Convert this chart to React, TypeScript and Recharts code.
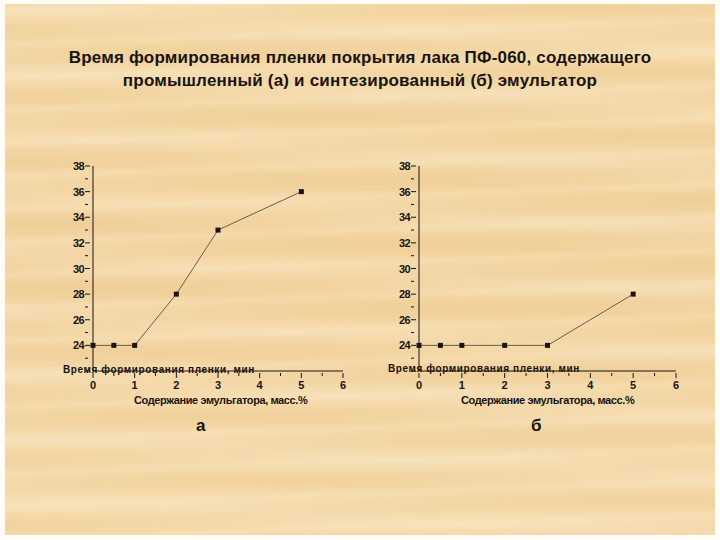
import { LineChart, Line, XAxis, YAxis } from "recharts";

const X_TICKS = [0, 1, 2, 3, 4, 5, 6];
const Y_TICKS = [22, 24, 26, 28, 30, 32, 34, 36, 38];

// содержание эмульгатора, масс.%
const conc = [0, 0.5, 1, 2, 3, 5];
// время формирования пленки, мин
const timeA = [24, 24, 24, 28, 33, 36];
const timeB = [24, 24, 24, 24, 24, 28];

const dataA = conc.map((c, i) => ({ c, t: timeA[i] }));
const dataB = conc.map((c, i) => ({ c, t: timeB[i] }));

const INK = "#1a1410";
const LINE = "#6e5c48";
const FONT = "'Liberation Sans', Arial, sans-serif";

const minorY = [23, 25, 27, 29, 31, 33, 35, 37];
const minorX = [0.5, 1.5, 2.5, 3.5, 4.5, 5.5];

function SquareDot(props: any) {
  const { cx, cy } = props;
  if (cx == null || cy == null) return null;
  return <rect x={cx - 2.5} y={cy - 2.5} width={5} height={5} fill={INK} />;
}

function YTick(props: any) {
  const { x, y, payload } = props;
  const minor = minorY.includes(payload.value);
  // 22 sits under the axis caption in the original, so it is not drawn
  const hidden = payload.value === 22;
  return (
    <g>
      <line x1={x} x2={x + (minor ? 3 : 5)} y1={y} y2={y} stroke={INK} strokeWidth={1} />
      {!minor && !hidden && (
        <text x={x - 1} y={y} dy={4} textAnchor="end" fontSize={11} fontWeight={700} fill={INK}
          fontFamily={FONT} letterSpacing={-0.6}>
          {payload.value}
        </text>
      )}
    </g>
  );
}

function XTick(props: any) {
  const { x, y, payload } = props;
  const minor = minorX.includes(payload.value);
  return (
    <g>
      <line x1={x} x2={x} y1={y - 6} y2={y - (minor ? 3 : 1)} stroke={INK} strokeWidth={1} />
      {!minor && (
        <text x={x} y={y} dy={10} textAnchor="middle" fontSize={11} fontWeight={700} fill={INK}
          fontFamily={FONT}>
          {payload.value}
        </text>
      )}
    </g>
  );
}

const allY = [...Y_TICKS, ...minorY].sort((a, b) => a - b);
const allX = [...X_TICKS, ...minorX].sort((a, b) => a - b);

function Panel({ data, left, width }: { data: { c: number; t: number }[]; left: number; width: number }) {
  return (
    <div style={{ position: "absolute", left, top: 150 }}>
      <LineChart width={width} height={240} data={data}
        margin={{ top: 16, right: 17, left: 13, bottom: 0 }}>
        <XAxis dataKey="c" type="number" domain={[0, 6]} ticks={allX} interval={0}
          axisLine={{ stroke: INK }} tickLine={false} tick={<XTick />} height={19} />
        <YAxis type="number" domain={[22, 38]} ticks={allY} interval={0}
          axisLine={{ stroke: INK }} tickLine={false} tick={<YTick />} width={30} />
        <Line dataKey="t" stroke={LINE} strokeWidth={1} dot={<SquareDot />}
          isAnimationActive={false} type="linear" />
      </LineChart>
    </div>
  );
}

const woodBg = [
  "repeating-linear-gradient(178deg, rgba(255,244,220,0) 0px, rgba(255,244,220,0.22) 7px, rgba(255,244,220,0) 15px, rgba(228,188,128,0.12) 24px, rgba(255,244,220,0) 33px)",
  "repeating-linear-gradient(183deg, rgba(235,190,120,0) 0px, rgba(235,190,120,0.12) 11px, rgba(235,190,120,0) 23px, rgba(255,247,228,0.2) 44px, rgba(235,190,120,0) 61px)",
  "linear-gradient(180deg, #f3d7a5 0%, #f2d39f 50%, #f4d9a9 100%)",
].join(", ");

const capStyle = {
  position: "absolute" as const,
  fontSize: 10,
  fontWeight: 700,
  color: INK,
  letterSpacing: 0.6,
  whiteSpace: "nowrap" as const,
  lineHeight: "10px",
};

export default function App() {
  return (
    <div style={{ position: "absolute", left: 0, top: 0, width: 720, height: 540, background: "#fffdf6", overflow: "hidden", fontFamily: FONT }}>
      <div style={{ position: "absolute", left: 5, top: 4, width: 710, height: 531, background: woodBg }} />

      <div style={{ position: "absolute", left: 0, top: 46, width: 720, textAlign: "center", fontSize: 17, fontWeight: 700, letterSpacing: 0.2, lineHeight: "23px", color: INK }}>
        Время формирования пленки покрытия лака ПФ-060, содержащего
        <br />
        промышленный (а) и синтезированный (б) эмульгатор
      </div>

      <Panel data={dataA} left={50} width={310} />
      <Panel data={dataB} left={376} width={317} />

      <div style={{ ...capStyle, left: 63, top: 365 }}>Время формирования пленки, мин</div>
      <div style={{ ...capStyle, left: 388, top: 364 }}>Время формирования пленки, мин</div>

      <div style={{ position: "absolute", left: 134, top: 394, fontSize: 11, fontWeight: 700, color: INK, letterSpacing: -0.4, whiteSpace: "nowrap" }}>
        Содержание эмульгатора, масс.%
      </div>
      <div style={{ position: "absolute", left: 461, top: 394, fontSize: 11, fontWeight: 700, color: INK, letterSpacing: -0.4, whiteSpace: "nowrap" }}>
        Содержание эмульгатора, масс.%
      </div>

      <div style={{ position: "absolute", left: 196, top: 416, fontSize: 17, fontWeight: 700, color: INK }}>а</div>
      <div style={{ position: "absolute", left: 531, top: 416, fontSize: 17, fontWeight: 700, color: INK }}>б</div>
    </div>
  );
}
